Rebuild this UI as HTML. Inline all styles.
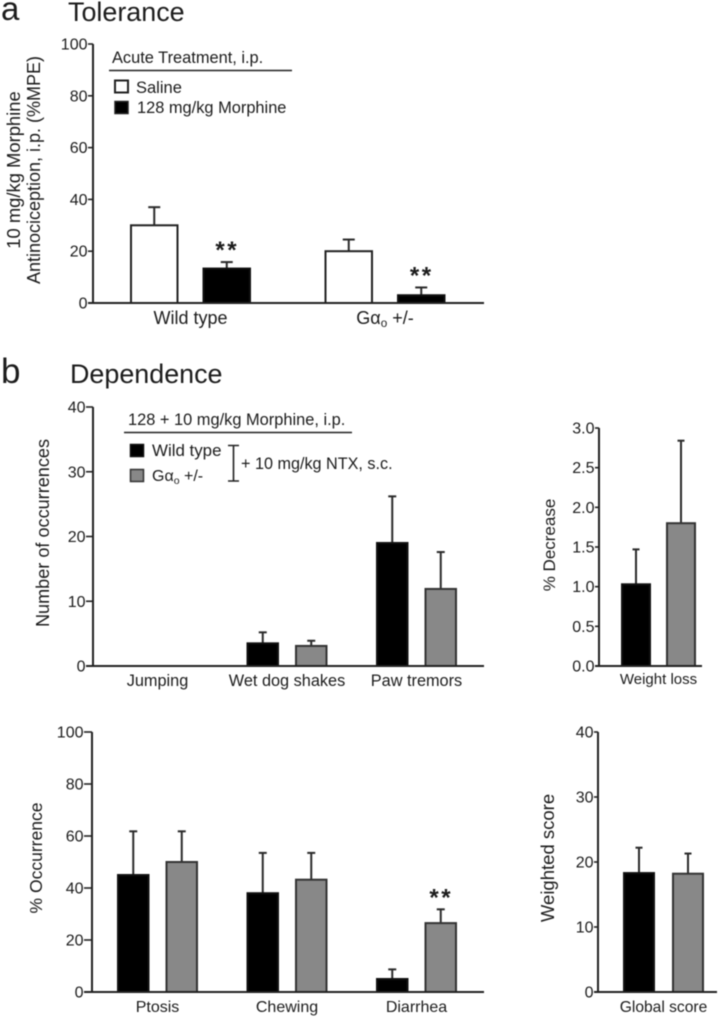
<!DOCTYPE html>
<html lang="en">
<head>
<meta charset="utf-8">
<title>Tolerance and Dependence</title>
<style>
html,body{margin:0;padding:0;background:#fff;width:720px;height:1020px;overflow:hidden}
svg{display:block;filter:blur(.5px)}
text{font-family:"Liberation Sans",sans-serif;fill:#1c1c1c}
</style>
</head>
<body>
<svg id="figure" xmlns="http://www.w3.org/2000/svg" width="720" height="1020" viewBox="0 0 720 1020">
  <rect x="0" y="0" width="720" height="1020" fill="#fff"/>
  <text x="1" y="20" font-size="33">a</text>
  <text x="68" y="21" font-size="26.9">Tolerance</text>
  <text x="1" y="383" font-size="35">b</text>
  <text x="70" y="383" font-size="26.9">Dependence</text>

  <g>
    <text x="112" y="63" font-size="16.4">Acute Treatment, i.p.</text>
    <line x1="109" x2="292" y1="70.5" y2="70.5" stroke="#222" stroke-width="1.4"/>
    <rect x="115" y="80.5" width="13" height="12" fill="#fff" stroke="#222" stroke-width="2"/>
    <text x="136" y="93" font-size="16.5">Saline</text>
    <rect x="115" y="101.5" width="13" height="12" fill="#000" stroke="#222" stroke-width="1.5"/>
    <text x="137" y="113" font-size="16.4">128 mg/kg Morphine</text>
  </g>

  <g>
    <text x="128" y="425" font-size="16.4">128 + 10 mg/kg Morphine, i.p.</text>
    <line x1="124" x2="352" y1="432.5" y2="432.5" stroke="#222" stroke-width="1.4"/>
    <rect x="130.5" y="444.5" width="13" height="12" fill="#000" stroke="#111" stroke-width="1.5"/>
    <text x="152" y="456" font-size="16.9">Wild type</text>
    <rect x="130.5" y="469.5" width="13" height="12" fill="#888" stroke="#333" stroke-width="1.5"/>
    <text x="152" y="481" font-size="16">Gα<tspan font-size="10.5" dy="3">o</tspan><tspan dy="-3"> +/-</tspan></text>
    <path d="M228 445.5H239M233.5 445.5V481M228 481H239" fill="none" stroke="#222" stroke-width="1.6"/>
    <text x="241" y="469" font-size="16.2">+ 10 mg/kg NTX, s.c.</text>
  </g>

  <g>
    <text transform="translate(20 170) rotate(-90)" text-anchor="middle" font-size="18.4">10 mg/kg Morphine</text>
    <text transform="translate(40 170) rotate(-90)" text-anchor="middle" font-size="18">Antinociception, i.p. (%MPE)</text>
    <text transform="translate(49 533) rotate(-90)" text-anchor="middle" font-size="18.1">Number of occurrences</text>
    <text transform="translate(555 545) rotate(-90)" text-anchor="middle" font-size="17">% Decrease</text>
    <text transform="translate(42 858) rotate(-90)" text-anchor="middle" font-size="17.5">% Occurrence</text>
    <text transform="translate(554 858) rotate(-90)" text-anchor="middle" font-size="18.5">Weighted score</text>
  </g>
</svg>
<script>
// ---- Chart data ----
const toleranceCategories = ['Wild type', 'Gα_o_ +/-'];
const toleranceTicks = [0, 20, 40, 60, 80, 100];
const toleranceSaline = [30, 20];
const toleranceSalineErrTop = [37, 24.5];
const toleranceMorphine = [13.3, 3];
const toleranceMorphineErrTop = [15.8, 6];
const toleranceMorphineStars = [true, true];

const behaviorCategories = ['Jumping', 'Wet dog shakes', 'Paw tremors'];
const behaviorTicks = [0, 10, 20, 30, 40];
const behaviorWild = [0, 3.5, 19];
const behaviorWildErrTop = [0, 5.2, 26.2];
const behaviorGalpha = [0, 3.1, 11.9];
const behaviorGalphaErrTop = [0, 3.9, 17.6];

const weightCategories = ['Weight loss'];
const weightTicks = ['0.0', '0.5', '1.0', '1.5', '2.0', '2.5', '3.0'];
const weightWild = [1.03];
const weightWildErrTop = [1.47];
const weightGalpha = [1.8];
const weightGalphaErrTop = [2.84];

const occurrenceCategories = ['Ptosis', 'Chewing', 'Diarrhea'];
const occurrenceTicks = [0, 20, 40, 60, 80, 100];
const occurrenceWild = [45, 38, 5];
const occurrenceWildErrTop = [61.8, 53.5, 8.7];
const occurrenceGalpha = [50, 43.2, 26.5];
const occurrenceGalphaErrTop = [61.8, 53.5, 31.8];
const occurrenceGalphaStars = [false, false, true];

const globalCategories = ['Global score'];
const globalTicks = [0, 10, 20, 30, 40];
const globalWild = [18.3];
const globalWildErrTop = [22.2];
const globalGalpha = [18.2];
const globalGalphaErrTop = [21.3];

// ---- Drawing ----
const SVG_NS = 'http://www.w3.org/2000/svg';
const figure = document.getElementById('figure');

function mk(parent, tag, attrs, txt) {
  const el = document.createElementNS(SVG_NS, tag);
  for (const k in attrs) el.setAttribute(k, attrs[k]);
  if (txt !== undefined) el.textContent = txt;
  parent.appendChild(el);
  return el;
}

function linearScale(domainMin, domainMax, rangeMin, rangeMax) {
  return v => rangeMin + (v - domainMin) / (domainMax - domainMin) * (rangeMax - rangeMin);
}

function groupScale(first, catStep, seriesStep) {
  return (cat, ser) => first + cat * catStep + ser * seriesStep;
}

function drawPanel(cfg) {
  const g = mk(figure, 'g', {});
  
  

  const nums = cfg.ticks.map(Number);
  const y = linearScale(0, Math.max.apply(null, nums), cfg.y0, cfg.yTop);
  const x = groupScale(cfg.first, cfg.catStep, cfg.seriesStep);

  const yAxis = mk(g, 'line', {x1: cfg.axisX, x2: cfg.axisX, y1: y(0), y2: cfg.yTop, stroke: '#222', 'stroke-width': 2});
  
  

  cfg.ticks.forEach(t => {
    const tick = mk(g, 'line', {x1: cfg.axisX - cfg.tickLen, x2: cfg.axisX, y1: y(Number(t)), y2: y(Number(t)), stroke: '#222', 'stroke-width': 1.6});
    
    
    const lab = mk(g, 'text', {x: cfg.axisX - cfg.tickLen - 0.5, y: y(Number(t)) + 5.5, 'text-anchor': 'end', 'font-size': 16}, String(t));
    
    
  });

  cfg.series.forEach((s, si) => {
    s.values.forEach((v, ci) => {
      if (v <= 0) return;
      const bx = x(ci, si);
      const cx = bx + cfg.barW / 2;
      const top = s.errTop[ci];
      const stem = mk(g, 'line', {x1: cx, x2: cx, y1: y(v), y2: y(top), stroke: '#2a2a2a', 'stroke-width': 2});
      
      
      const cap = mk(g, 'line', {x1: cx - cfg.capW / 2, x2: cx + cfg.capW / 2, y1: y(top), y2: y(top), stroke: '#2a2a2a', 'stroke-width': 2});
      
      
      const bar = mk(g, 'rect', {x: bx + 1, y: y(v), width: cfg.barW - 2, height: y(0) - y(v), fill: s.fill, stroke: s.stroke, 'stroke-width': 2});
      
      
      if (s.stars && s.stars[ci]) {
        const st = mk(g, 'text', {x: cx + 0.5, y: y(top) - 4, 'text-anchor': 'middle', 'font-size': 24, 'font-weight': 'bold', 'letter-spacing': 2.5}, '**');
        
        
      }
    });
  });

  const base = mk(g, 'line', {x1: cfg.axisX - cfg.tickLen, x2: cfg.baseEnd, y1: y(0), y2: y(0), stroke: '#222', 'stroke-width': 2});
  
  

  cfg.categories.forEach((c, ci) => {
    const center = (x(ci, 0) + x(ci, cfg.series.length - 1) + cfg.barW) / 2;
    const parts = c.split('_');
    const lab = mk(g, 'text', {x: center + cfg.labelShift, y: cfg.labelY, 'text-anchor': 'middle', 'font-size': cfg.labelSize});
    
    
    if (parts.length === 3) {
      mk(lab, 'tspan', {}, parts[0]);
      mk(lab, 'tspan', {'font-size': cfg.labelSize * 0.65, dy: 3}, parts[1]);
      mk(lab, 'tspan', {dy: -3}, parts[2]);
    } else {
      lab.textContent = c;
    }
  });
}

const BLACK = {fill: '#000', stroke: '#111'};
const GREY = {fill: '#888', stroke: '#333'};

drawPanel({name: 'tolerance', categories: toleranceCategories, ticks: toleranceTicks,
  axisX: 93, tickLen: 5, y0: 303, yTop: 44, baseEnd: 484, first: 130, catStep: 194.5, seriesStep: 72.5, barW: 48.5, capW: 12, labelY: 324, labelSize: 18, labelShift: 0,
  series: [
    {key: 'saline', values: toleranceSaline, errTop: toleranceSalineErrTop, fill: '#fff', stroke: '#222'},
    {key: 'morphine', values: toleranceMorphine, errTop: toleranceMorphineErrTop, fill: '#000', stroke: '#111', stars: toleranceMorphineStars}
  ]});

drawPanel({name: 'behavior', categories: behaviorCategories, ticks: behaviorTicks,
  axisX: 93, tickLen: 7, y0: 666, yTop: 407, baseEnd: 484, first: 117, catStep: 129.5, seriesStep: 48.5, barW: 32.5, capW: 8, labelY: 686, labelSize: 16.3, labelShift: 0,
  series: [
    Object.assign({key: 'wild-type', values: behaviorWild, errTop: behaviorWildErrTop}, BLACK),
    Object.assign({key: 'galpha', values: behaviorGalpha, errTop: behaviorGalphaErrTop}, GREY)
  ]});

drawPanel({name: 'weight-loss', categories: weightCategories, ticks: weightTicks,
  axisX: 599, tickLen: 4, y0: 666, yTop: 428, baseEnd: 702, first: 621, catStep: 0, seriesStep: 45, barW: 30, capW: 7, labelY: 684, labelSize: 15, labelShift: 0,
  series: [
    Object.assign({key: 'wild-type', values: weightWild, errTop: weightWildErrTop}, BLACK),
    Object.assign({key: 'galpha', values: weightGalpha, errTop: weightGalphaErrTop}, GREY)
  ]});

drawPanel({name: 'occurrence', categories: occurrenceCategories, ticks: occurrenceTicks,
  axisX: 92, tickLen: 8, y0: 992, yTop: 732, baseEnd: 484, first: 117, catStep: 129.5, seriesStep: 48.5, barW: 32.5, capW: 8, labelY: 1012, labelSize: 16, labelShift: 0,
  series: [
    Object.assign({key: 'wild-type', values: occurrenceWild, errTop: occurrenceWildErrTop}, BLACK),
    Object.assign({key: 'galpha', values: occurrenceGalpha, errTop: occurrenceGalphaErrTop, stars: occurrenceGalphaStars}, GREY)
  ]});

drawPanel({name: 'global-score', categories: globalCategories, ticks: globalTicks,
  axisX: 598, tickLen: 4, y0: 992, yTop: 732, baseEnd: 717, first: 623, catStep: 0, seriesStep: 49, barW: 32, capW: 7, labelY: 1012, labelSize: 15.6, labelShift: 0,
  series: [
    Object.assign({key: 'wild-type', values: globalWild, errTop: globalWildErrTop}, BLACK),
    Object.assign({key: 'galpha', values: globalGalpha, errTop: globalGalphaErrTop}, GREY)
  ]});
</script>
</body>
</html>
